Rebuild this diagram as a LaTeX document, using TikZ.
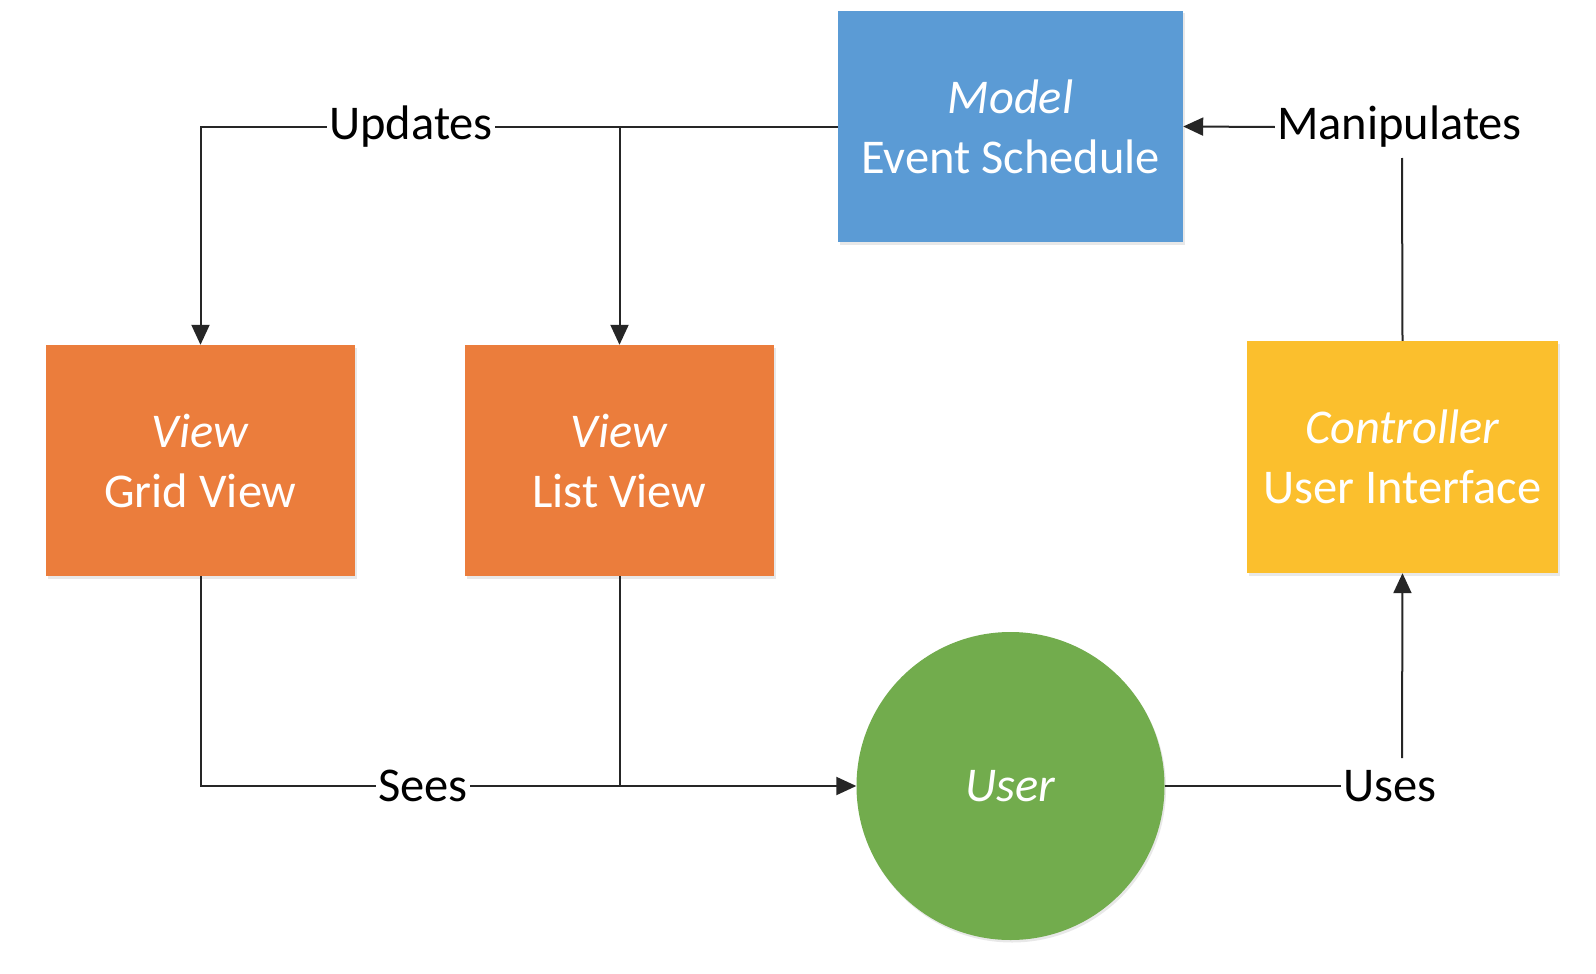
\documentclass[tikz,border=0pt]{standalone}
\usepackage{fontspec}
\setmainfont{Carlito}
\usetikzlibrary{arrows.meta,shadows}
\definecolor{mblue}{HTML}{5B9BD5}
\definecolor{vorange}{HTML}{EB7D3C}
\definecolor{cyellow}{HTML}{FBBF2D}
\definecolor{ugreen}{HTML}{72AC4D}
\begin{document}
\begin{tikzpicture}[x=1pt,y=-1pt,
  box/.style={rectangle,inner sep=0pt,text=white,align=center,
    font=\fontsize{48.5}{60}\selectfont,
    drop shadow={opacity=0.18,shadow xshift=1.5pt,shadow yshift=-2.5pt}},
  lbl/.style={fill=white,inner sep=6pt,text=black,font=\fontsize{48.5}{58}\selectfont},
  conn/.style={draw=black!85,line width=2pt},
  arr/.style={conn,-{Triangle[length=20pt,width=18pt]}}]
\useasboundingbox (0,0) rectangle (1596,974);
\fill[white] (0,0) rectangle (1596,974);

\node[box,fill=mblue,minimum width=345pt,minimum height=231pt] (model) at (1010.5,126.5) {\textit{Model}\\Event Schedule};
\node[box,fill=vorange,minimum width=309pt,minimum height=231pt] (grid) at (200.5,460.5) {\textit{View}\\Grid View};
\node[box,fill=vorange,minimum width=309pt,minimum height=231pt] (list) at (619.5,460.5) {\textit{View}\\List View};
\node[box,fill=cyellow,minimum width=311pt,minimum height=232pt] (ctrl) at (1402.5,457) {\textit{Controller}\\User Interface};
\node[box,circle,fill=ugreen,minimum size=308pt] (user) at (1010.5,786) {\textit{User}};

% Updates
\draw[arr] (model.west) -- (grid.north |- model.west) -- (grid.north);
\draw[arr] (list.north |- model.west) -- (list.north);
\node[lbl,inner sep=2pt] (updates) at (411,127) {Updates};

% Sees
\draw[arr] (grid.south) -- (grid.south |- user.west) -- (user.west);
\draw[conn] (list.south) -- (list.south |- user.west);
\node[lbl,inner sep=2pt] (sees) at (423,786) {Sees};

% Uses
\node[lbl,inner sep=2pt] (uses) at (1390,786) {Uses};
\coordinate (usestop) at (1402,758);
\draw[conn] (user.east) -- (uses.west);
\draw[arr] (usestop) -- (ctrl.south);

% Manipulates
\node[lbl,inner sep=2pt] (manip) at (1399.5,127) {Manipulates};
\coordinate (maniplow) at (1402,158);
\draw[arr] (manip.west) -- (model.east);
\draw[conn] (ctrl.north) -- (maniplow);
\end{tikzpicture}
\end{document}
